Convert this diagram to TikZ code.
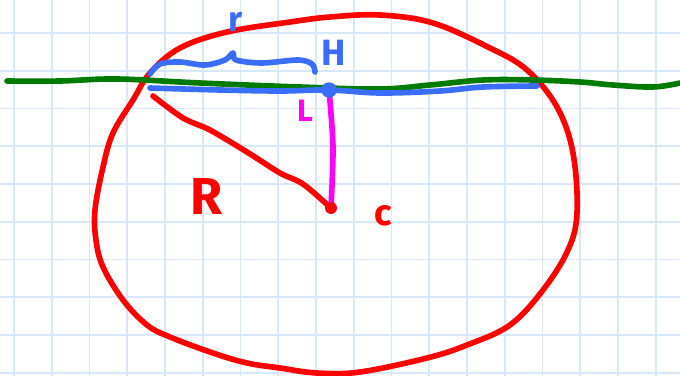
\documentclass[tikz,border=0pt]{standalone}
\usepackage{fontspec}
\setmainfont{Fira Sans}
\usetikzlibrary{positioning,calc}

\definecolor{gridblue}{RGB}{216,232,251}
\definecolor{penred}{RGB}{255,0,0}
\definecolor{pengreen}{RGB}{0,122,0}
\definecolor{penblue}{RGB}{58,110,250}
\definecolor{penpink}{RGB}{255,0,255}

\tikzset{
  gridline/.style={draw=gridblue, line width=1.4pt},
  pen/.style={line width=4pt, line cap=round, line join=round},
  dot/.style={circle, inner sep=0pt, minimum size=#1},
  handtext/.style={inner sep=0pt, font=\fontsize{#1}{#1}\selectfont\bfseries}
}

\begin{document}
\begin{tikzpicture}[x=0.025cm, y=-0.025cm]
        \useasboundingbox (0,0) rectangle (680,376);

        % Papel
        \fill[white] (0,0) rectangle (680,376);
        \foreach \i in {0,...,17}
          \draw[gridline] ({14+37.75*\i},0) -- ({14+37.75*\i},376);
        \foreach \j in {0,...,9}
          \draw[gridline] (0,{33+37.75*\j}) -- (680,{33+37.75*\j});

        % Circulo
        \draw[pen, penred] plot[smooth cycle, tension=0.6] coordinates {
          (380,15) (433,23) (490,48) (527,70) (557,107) (573,153) (577,213)
          (568,250) (543,290) (510,325) (467,345) (427,358) (360,372) (317,373)
          (280,368) (247,363) (213,353) (170,337) (147,325) (123,300) (103,267)
          (96,240) (95,210) (103,167) (113,133) (133,100) (150,73) (180,48)
          (227,32) (290,22) (330,17)};

        % Reta
        \draw[pen, pengreen] plot[smooth, tension=0.6] coordinates {
          (7,81) (60,81) (117,79) (200,83) (300,87) (380,89) (430,85)
          (483,80) (533,80) (580,82) (613,85) (653,87) (680,83)};

        % Pontos
        \coordinate (H) at (329,90);
        \coordinate (O) at (331,208);
        \coordinate (A) at (150,88);
        \coordinate (B) at (537,86);
        \coordinate (P) at (153,96);

        % Corda
        \draw[pen, penblue] plot[smooth, tension=0.6] coordinates {
          (A) (220,90) (280,91) (H) (380,93) (440,91) (483,87) (B)};

        % Chaveta
        \draw[pen, penblue] plot[smooth, tension=0.55] coordinates {
          (150,74) (160,64) (180,62) (205,65) (225,60) (233,53)
          (236,60) (262,63) (298,60) (312,64) (315,72)};

        % Raio e distancia
        \draw[pen, penred] plot[smooth, tension=0.5] coordinates {
          (P) (183,118) (210,130) (247,152) (280,173) (303,184) (O)};
        \draw[pen, penpink] plot[smooth, tension=0.5] coordinates {
          (H) (333,147) (O)};

        \node[dot=11pt, fill=penblue] (Hdot) at (H) {};
        \node[dot=8.5pt, fill=penred] (Odot) at (O) {};

        % Rotulos
        \node[handtext=25, text=penblue] (r) at (236,22) {r};
        \node[handtext=26, text=penblue] (Hl) at (334,53) {H};
        \node[handtext=22, text=penpink] (L) at (305,111) {L};
        \node[handtext=37, text=penred] (R) at (207,196) {R};
        \node[handtext=26, text=penred] (c) at (383,216) {c};
\end{tikzpicture}
\end{document}
